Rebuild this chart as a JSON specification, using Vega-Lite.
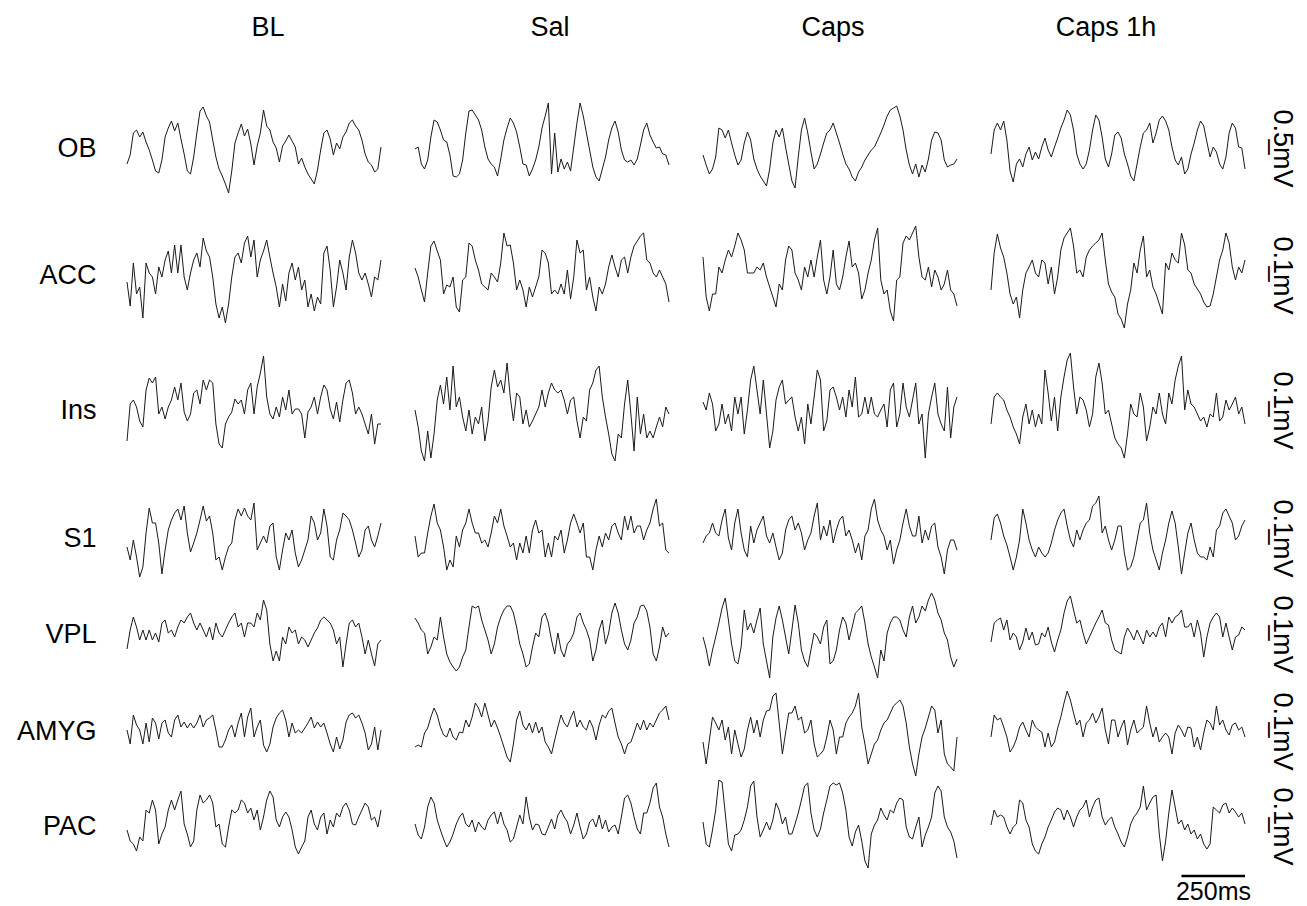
{
"$schema":"https://vega.github.io/schema/vega-lite/v6.json",
"background":"white",
"padding":{"top":14,"left":0,"right":0,"bottom":0},
"config":{"view":{"stroke":null},"font":"Liberation Sans","title":{"font":"Liberation Sans","fontSize":27,"fontWeight":"normal","color":"black","offset":43,"anchor":"middle","frame":"group"},"axis":{"labelFont":"Liberation Sans"}},
"datasets":{
"OB":[
{"t":0,"BL":-16,"Sal":-1,"Caps":-7,"C1h":-6},{"t":12.5,"BL":-7,"Sal":1,"Caps":-17,"C1h":18},{"t":25,"BL":15,"Sal":-16,"Caps":-26,"C1h":25},{"t":37.5,"BL":18,"Sal":-21,"Caps":-21,"C1h":18},{"t":50,"BL":11,"Sal":-12,"Caps":-9,"C1h":27},{"t":62.5,"BL":16,"Sal":11,"Caps":20,"C1h":8},{"t":75,"BL":6,"Sal":28,"Caps":18,"C1h":-23},{"t":87.5,"BL":-2,"Sal":26,"Caps":10,"C1h":-34},{"t":100,"BL":-12,"Sal":18,"Caps":18,"C1h":-16},{"t":112.5,"BL":-23,"Sal":8,"Caps":5,"C1h":-11},
{"t":125,"BL":-25,"Sal":6,"Caps":-7,"C1h":-19},{"t":137.5,"BL":-12,"Sal":-7,"Caps":-17,"C1h":-6},{"t":150,"BL":11,"Sal":-28,"Caps":-12,"C1h":1},{"t":162.5,"BL":20,"Sal":-29,"Caps":5,"C1h":-12},{"t":175,"BL":27,"Sal":-26,"Caps":16,"C1h":-4},{"t":187.5,"BL":17,"Sal":-12,"Caps":8,"C1h":-11},{"t":200,"BL":25,"Sal":15,"Caps":-11,"C1h":1},{"t":212.5,"BL":9,"Sal":37,"Caps":-21,"C1h":10},{"t":225,"BL":-6,"Sal":38,"Caps":-28,"C1h":-2},{"t":237.5,"BL":-23,"Sal":33,"Caps":-33,"C1h":-9},
{"t":250,"BL":-26,"Sal":28,"Caps":-38,"C1h":1},{"t":262.5,"BL":-9,"Sal":18,"Caps":-21,"C1h":10},{"t":275,"BL":15,"Sal":1,"Caps":5,"C1h":20},{"t":287.5,"BL":37,"Sal":-11,"Caps":18,"C1h":28},{"t":300,"BL":41,"Sal":-16,"Caps":11,"C1h":38},{"t":312.5,"BL":32,"Sal":-19,"Caps":20,"C1h":33},{"t":325,"BL":26,"Sal":-28,"Caps":1,"C1h":18},{"t":337.5,"BL":8,"Sal":-11,"Caps":-16,"C1h":-6},{"t":350,"BL":-9,"Sal":8,"Caps":-33,"C1h":-16},{"t":362.5,"BL":-21,"Sal":20,"Caps":-40,"C1h":-21},
{"t":375,"BL":-28,"Sal":30,"Caps":-9,"C1h":-16},{"t":387.5,"BL":-36,"Sal":25,"Caps":18,"C1h":-2},{"t":400,"BL":-45,"Sal":16,"Caps":30,"C1h":18},{"t":412.5,"BL":-23,"Sal":1,"Caps":15,"C1h":33},{"t":425,"BL":5,"Sal":-16,"Caps":-4,"C1h":28},{"t":437.5,"BL":15,"Sal":-17,"Caps":-21,"C1h":11},{"t":450,"BL":24,"Sal":-28,"Caps":-16,"C1h":-11},{"t":462.5,"BL":12,"Sal":-21,"Caps":-6,"C1h":-19},{"t":475,"BL":19,"Sal":-12,"Caps":5,"C1h":-6},{"t":487.5,"BL":4,"Sal":1,"Caps":15,"C1h":13},
{"t":500,"BL":-17,"Sal":20,"Caps":18,"C1h":16},{"t":512.5,"BL":2,"Sal":32,"Caps":25,"C1h":10},{"t":525,"BL":15,"Sal":45,"Caps":15,"C1h":-6},{"t":537.5,"BL":38,"Sal":-26,"Caps":5,"C1h":-16},{"t":550,"BL":22,"Sal":15,"Caps":-6,"C1h":-28},{"t":562.5,"BL":18,"Sal":-24,"Caps":-16,"C1h":-33},{"t":575,"BL":6,"Sal":-11,"Caps":-21,"C1h":-16},{"t":587.5,"BL":0,"Sal":-21,"Caps":-29,"C1h":1},{"t":600,"BL":-14,"Sal":-14,"Caps":-33,"C1h":15},{"t":612.5,"BL":2,"Sal":-23,"Caps":-24,"C1h":18},
{"t":625,"BL":7,"Sal":1,"Caps":-19,"C1h":25},{"t":637.5,"BL":13,"Sal":25,"Caps":-12,"C1h":5},{"t":650,"BL":7,"Sal":45,"Caps":-7,"C1h":15},{"t":662.5,"BL":1,"Sal":32,"Caps":-2,"C1h":28},{"t":675,"BL":-16,"Sal":15,"Caps":1,"C1h":32},{"t":687.5,"BL":-10,"Sal":-2,"Caps":8,"C1h":27},{"t":700,"BL":-19,"Sal":-19,"Caps":15,"C1h":18},{"t":712.5,"BL":-26,"Sal":-29,"Caps":23,"C1h":1},{"t":725,"BL":-31,"Sal":-33,"Caps":32,"C1h":-12},{"t":737.5,"BL":-36,"Sal":-21,"Caps":38,"C1h":-17},
{"t":750,"BL":-22,"Sal":-9,"Caps":40,"C1h":-9},{"t":762.5,"BL":-2,"Sal":8,"Caps":42,"C1h":-26},{"t":775,"BL":15,"Sal":20,"Caps":32,"C1h":-21},{"t":787.5,"BL":18,"Sal":27,"Caps":18,"C1h":-6},{"t":800,"BL":9,"Sal":16,"Caps":-2,"C1h":5},{"t":812.5,"BL":-7,"Sal":-2,"Caps":-17,"C1h":18},{"t":825,"BL":5,"Sal":-12,"Caps":-26,"C1h":27},{"t":837.5,"BL":-1,"Sal":-14,"Caps":-16,"C1h":22},{"t":850,"BL":11,"Sal":-12,"Caps":-29,"C1h":6},{"t":862.5,"BL":16,"Sal":-17,"Caps":-17,"C1h":-9},
{"t":875,"BL":25,"Sal":-11,"Caps":-24,"C1h":1},{"t":887.5,"BL":28,"Sal":3,"Caps":-11,"C1h":-4},{"t":900,"BL":22,"Sal":18,"Caps":8,"C1h":-16},{"t":912.5,"BL":18,"Sal":25,"Caps":16,"C1h":-21},{"t":925,"BL":8,"Sal":13,"Caps":15,"C1h":-9},{"t":937.5,"BL":-6,"Sal":6,"Caps":8,"C1h":15},{"t":950,"BL":-14,"Sal":0,"Caps":-12,"C1h":25},{"t":962.5,"BL":-17,"Sal":1,"Caps":-19,"C1h":20},{"t":975,"BL":-24,"Sal":-6,"Caps":-17,"C1h":1},{"t":987.5,"BL":-21,"Sal":-7,"Caps":-16,"C1h":0},
{"t":1000,"BL":1,"Sal":-17,"Caps":-11,"C1h":-21}],
"ACC":[
{"t":0,"BL":-7,"Sal":7,"Caps":18,"C1h":-15},{"t":12.5,"BL":-31,"Sal":-2,"Caps":-22,"C1h":22},{"t":25,"BL":12,"Sal":-15,"Caps":-36,"C1h":41},{"t":37.5,"BL":-19,"Sal":-27,"Caps":-19,"C1h":27},{"t":50,"BL":-12,"Sal":2,"Caps":-19,"C1h":18},{"t":62.5,"BL":-43,"Sal":29,"Caps":8,"C1h":2},{"t":75,"BL":12,"Sal":34,"Caps":2,"C1h":-19},{"t":87.5,"BL":2,"Sal":24,"Caps":15,"C1h":-29},{"t":100,"BL":-2,"Sal":15,"Caps":25,"C1h":-22},{"t":112.5,"BL":-19,"Sal":-19,"Caps":18,"C1h":-43},
{"t":125,"BL":8,"Sal":-10,"Caps":29,"C1h":-15},{"t":137.5,"BL":-2,"Sal":-12,"Caps":42,"C1h":2},{"t":150,"BL":15,"Sal":-2,"Caps":35,"C1h":8},{"t":162.5,"BL":24,"Sal":-32,"Caps":25,"C1h":15},{"t":175,"BL":2,"Sal":-37,"Caps":2,"C1h":2},{"t":187.5,"BL":30,"Sal":-5,"Caps":2,"C1h":-2},{"t":200,"BL":2,"Sal":-2,"Caps":2,"C1h":15},{"t":212.5,"BL":30,"Sal":32,"Caps":8,"C1h":12},{"t":225,"BL":-2,"Sal":29,"Caps":5,"C1h":-9},{"t":237.5,"BL":-15,"Sal":15,"Caps":12,"C1h":8},
{"t":250,"BL":2,"Sal":5,"Caps":-2,"C1h":-19},{"t":262.5,"BL":15,"Sal":-9,"Caps":-12,"C1h":-2},{"t":275,"BL":22,"Sal":-12,"Caps":-22,"C1h":25},{"t":287.5,"BL":8,"Sal":-15,"Caps":-32,"C1h":37},{"t":300,"BL":37,"Sal":2,"Caps":-9,"C1h":42},{"t":312.5,"BL":24,"Sal":-2,"Caps":-15,"C1h":47},{"t":325,"BL":18,"Sal":-7,"Caps":15,"C1h":29},{"t":337.5,"BL":-2,"Sal":12,"Caps":29,"C1h":2},{"t":350,"BL":-29,"Sal":42,"Caps":25,"C1h":5},{"t":362.5,"BL":-43,"Sal":29,"Caps":2,"C1h":-2},
{"t":375,"BL":-32,"Sal":30,"Caps":-5,"C1h":18},{"t":387.5,"BL":-48,"Sal":12,"Caps":-15,"C1h":25},{"t":400,"BL":-29,"Sal":-15,"Caps":8,"C1h":29},{"t":412.5,"BL":-2,"Sal":-5,"Caps":-2,"C1h":32},{"t":425,"BL":18,"Sal":-15,"Caps":15,"C1h":35},{"t":437.5,"BL":22,"Sal":-32,"Caps":-2,"C1h":42},{"t":450,"BL":12,"Sal":-12,"Caps":18,"C1h":15},{"t":462.5,"BL":32,"Sal":-22,"Caps":35,"C1h":-9},{"t":475,"BL":39,"Sal":-12,"Caps":-5,"C1h":-17},{"t":487.5,"BL":18,"Sal":-2,"Caps":-19,"C1h":-22},
{"t":500,"BL":35,"Sal":25,"Caps":-2,"C1h":-39},{"t":512.5,"BL":-2,"Sal":22,"Caps":25,"C1h":-44},{"t":525,"BL":15,"Sal":12,"Caps":-9,"C1h":-53},{"t":537.5,"BL":24,"Sal":-19,"Caps":-15,"C1h":-29},{"t":550,"BL":35,"Sal":-15,"Caps":-2,"C1h":-15},{"t":562.5,"BL":18,"Sal":-19,"Caps":18,"C1h":12},{"t":575,"BL":2,"Sal":-9,"Caps":34,"C1h":2},{"t":587.5,"BL":-12,"Sal":-19,"Caps":8,"C1h":25},{"t":600,"BL":-32,"Sal":5,"Caps":12,"C1h":39},{"t":612.5,"BL":-9,"Sal":-24,"Caps":2,"C1h":-2},
{"t":625,"BL":-26,"Sal":-2,"Caps":-24,"C1h":5},{"t":637.5,"BL":2,"Sal":35,"Caps":-15,"C1h":-12},{"t":650,"BL":12,"Sal":22,"Caps":2,"C1h":-19},{"t":662.5,"BL":-5,"Sal":25,"Caps":15,"C1h":-29},{"t":675,"BL":8,"Sal":-15,"Caps":35,"C1h":-39},{"t":687.5,"BL":-15,"Sal":-2,"Caps":47,"C1h":12},{"t":700,"BL":-5,"Sal":-22,"Caps":-5,"C1h":5},{"t":712.5,"BL":-32,"Sal":-36,"Caps":-19,"C1h":22},{"t":725,"BL":-19,"Sal":-12,"Caps":-15,"C1h":15},{"t":737.5,"BL":-36,"Sal":-19,"Caps":-36,"C1h":12},
{"t":750,"BL":-22,"Sal":-9,"Caps":-46,"C1h":42},{"t":762.5,"BL":-29,"Sal":8,"Caps":-5,"C1h":30},{"t":775,"BL":22,"Sal":20,"Caps":-2,"C1h":5},{"t":787.5,"BL":29,"Sal":8,"Caps":32,"C1h":2},{"t":800,"BL":5,"Sal":-2,"Caps":39,"C1h":-9},{"t":812.5,"BL":-32,"Sal":15,"Caps":35,"C1h":-14},{"t":825,"BL":-12,"Sal":18,"Caps":42,"C1h":-19},{"t":837.5,"BL":15,"Sal":2,"Caps":49,"C1h":-27},{"t":850,"BL":2,"Sal":18,"Caps":18,"C1h":-32},{"t":862.5,"BL":-15,"Sal":29,"Caps":-2,"C1h":-31},
{"t":875,"BL":18,"Sal":34,"Caps":-5,"C1h":-19},{"t":887.5,"BL":35,"Sal":39,"Caps":8,"C1h":-2},{"t":900,"BL":22,"Sal":42,"Caps":-12,"C1h":15},{"t":912.5,"BL":2,"Sal":15,"Caps":5,"C1h":25},{"t":925,"BL":-5,"Sal":12,"Caps":-2,"C1h":42},{"t":937.5,"BL":2,"Sal":2,"Caps":-15,"C1h":32},{"t":950,"BL":-9,"Sal":-2,"Caps":-9,"C1h":8},{"t":962.5,"BL":-22,"Sal":5,"Caps":5,"C1h":-5},{"t":975,"BL":-2,"Sal":-2,"Caps":-15,"C1h":8},{"t":987.5,"BL":-5,"Sal":-9,"Caps":-19,"C1h":2},
{"t":1000,"BL":15,"Sal":-27,"Caps":-31,"C1h":15}],
"Ins":[
{"t":0,"BL":-31,"Sal":0,"Caps":8,"C1h":-14},{"t":12.5,"BL":6,"Sal":-17,"Caps":0,"C1h":13},{"t":25,"BL":10,"Sal":-41,"Caps":17,"C1h":17},{"t":37.5,"BL":3,"Sal":-51,"Caps":6,"C1h":13},{"t":50,"BL":-11,"Sal":-21,"Caps":-21,"C1h":10},{"t":62.5,"BL":-17,"Sal":-48,"Caps":-14,"C1h":0},{"t":75,"BL":20,"Sal":-24,"Caps":6,"C1h":-7},{"t":87.5,"BL":32,"Sal":10,"Caps":-14,"C1h":-17},{"t":100,"BL":27,"Sal":25,"Caps":-4,"C1h":-24},{"t":112.5,"BL":33,"Sal":6,"Caps":-21,"C1h":-34},
{"t":125,"BL":-4,"Sal":33,"Caps":13,"C1h":-7},{"t":137.5,"BL":3,"Sal":0,"Caps":-4,"C1h":6},{"t":150,"BL":-9,"Sal":44,"Caps":13,"C1h":-14},{"t":162.5,"BL":3,"Sal":3,"Caps":-24,"C1h":0},{"t":175,"BL":10,"Sal":13,"Caps":0,"C1h":-17},{"t":187.5,"BL":23,"Sal":-7,"Caps":30,"C1h":-4},{"t":200,"BL":10,"Sal":-21,"Caps":44,"C1h":-14},{"t":212.5,"BL":27,"Sal":0,"Caps":20,"C1h":40},{"t":225,"BL":-2,"Sal":-24,"Caps":-4,"C1h":17},{"t":237.5,"BL":-11,"Sal":-7,"Caps":30,"C1h":-11},
{"t":250,"BL":-4,"Sal":-14,"Caps":-4,"C1h":13},{"t":262.5,"BL":17,"Sal":3,"Caps":-38,"C1h":-21},{"t":275,"BL":20,"Sal":-31,"Caps":-21,"C1h":13},{"t":287.5,"BL":6,"Sal":-11,"Caps":10,"C1h":33},{"t":300,"BL":30,"Sal":23,"Caps":23,"C1h":50},{"t":312.5,"BL":20,"Sal":40,"Caps":30,"C1h":57},{"t":325,"BL":30,"Sal":23,"Caps":6,"C1h":23},{"t":337.5,"BL":27,"Sal":30,"Caps":10,"C1h":-4},{"t":350,"BL":-14,"Sal":17,"Caps":13,"C1h":13},{"t":362.5,"BL":-34,"Sal":47,"Caps":-7,"C1h":10},
{"t":375,"BL":-38,"Sal":13,"Caps":-21,"C1h":0},{"t":387.5,"BL":-14,"Sal":-11,"Caps":-7,"C1h":-17},{"t":400,"BL":-7,"Sal":17,"Caps":-34,"C1h":-4},{"t":412.5,"BL":-2,"Sal":13,"Caps":6,"C1h":33},{"t":425,"BL":11,"Sal":-14,"Caps":-14,"C1h":47},{"t":437.5,"BL":6,"Sal":0,"Caps":13,"C1h":27},{"t":450,"BL":10,"Sal":-17,"Caps":40,"C1h":-4},{"t":462.5,"BL":-4,"Sal":-11,"Caps":30,"C1h":0},{"t":475,"BL":20,"Sal":-4,"Caps":-21,"C1h":-14},{"t":487.5,"BL":27,"Sal":3,"Caps":-11,"C1h":-28},
{"t":500,"BL":-4,"Sal":20,"Caps":20,"C1h":-34},{"t":512.5,"BL":23,"Sal":3,"Caps":23,"C1h":-38},{"t":525,"BL":37,"Sal":17,"Caps":13,"C1h":-48},{"t":537.5,"BL":54,"Sal":27,"Caps":0,"C1h":-24},{"t":550,"BL":13,"Sal":20,"Caps":13,"C1h":6},{"t":562.5,"BL":-4,"Sal":17,"Caps":-7,"C1h":-4},{"t":575,"BL":-9,"Sal":20,"Caps":20,"C1h":-7},{"t":587.5,"BL":3,"Sal":10,"Caps":3,"C1h":17},{"t":600,"BL":-7,"Sal":-4,"Caps":33,"C1h":3},{"t":612.5,"BL":13,"Sal":10,"Caps":-7,"C1h":-31},
{"t":625,"BL":0,"Sal":13,"Caps":-4,"C1h":-17},{"t":637.5,"BL":20,"Sal":-11,"Caps":13,"C1h":3},{"t":650,"BL":-4,"Sal":-28,"Caps":-4,"C1h":-4},{"t":662.5,"BL":1,"Sal":-7,"Caps":13,"C1h":17},{"t":675,"BL":1,"Sal":-11,"Caps":-4,"C1h":-4},{"t":687.5,"BL":-4,"Sal":20,"Caps":-7,"C1h":-14},{"t":700,"BL":-28,"Sal":27,"Caps":0,"C1h":17},{"t":712.5,"BL":-2,"Sal":40,"Caps":6,"C1h":6},{"t":725,"BL":3,"Sal":44,"Caps":-17,"C1h":30},{"t":737.5,"BL":13,"Sal":13,"Caps":20,"C1h":44},
{"t":750,"BL":-4,"Sal":-7,"Caps":27,"C1h":54},{"t":762.5,"BL":13,"Sal":-24,"Caps":-17,"C1h":0},{"t":775,"BL":25,"Sal":-44,"Caps":-4,"C1h":20},{"t":787.5,"BL":20,"Sal":-51,"Caps":27,"C1h":6},{"t":800,"BL":1,"Sal":-24,"Caps":3,"C1h":3},{"t":812.5,"BL":-9,"Sal":-28,"Caps":-7,"C1h":-4},{"t":825,"BL":8,"Sal":6,"Caps":10,"C1h":-11},{"t":837.5,"BL":-12,"Sal":30,"Caps":27,"C1h":-7},{"t":850,"BL":10,"Sal":-4,"Caps":-14,"C1h":-17},{"t":862.5,"BL":27,"Sal":-41,"Caps":-4,"C1h":-4},
{"t":875,"BL":30,"Sal":13,"Caps":-48,"C1h":-7},{"t":887.5,"BL":17,"Sal":-24,"Caps":-4,"C1h":17},{"t":900,"BL":-4,"Sal":-4,"Caps":13,"C1h":-11},{"t":912.5,"BL":3,"Sal":-28,"Caps":27,"C1h":-7},{"t":925,"BL":-4,"Sal":-21,"Caps":-4,"C1h":10},{"t":937.5,"BL":-14,"Sal":-28,"Caps":-14,"C1h":0},{"t":950,"BL":-24,"Sal":-17,"Caps":-21,"C1h":6},{"t":962.5,"BL":-4,"Sal":-7,"Caps":23,"C1h":13},{"t":975,"BL":-34,"Sal":-17,"Caps":-28,"C1h":-4},{"t":987.5,"BL":-14,"Sal":3,"Caps":3,"C1h":3},
{"t":1000,"BL":-14,"Sal":-4,"Caps":13,"C1h":-14}],
"S1":[
{"t":0,"BL":-9,"Sal":2,"Caps":-5,"C1h":-2},{"t":12.5,"BL":-22,"Sal":-19,"Caps":2,"C1h":20},{"t":25,"BL":-2,"Sal":-15,"Caps":5,"C1h":24},{"t":37.5,"BL":-19,"Sal":-15,"Caps":15,"C1h":15},{"t":50,"BL":-39,"Sal":5,"Caps":5,"C1h":2},{"t":62.5,"BL":-29,"Sal":22,"Caps":2,"C1h":-7},{"t":75,"BL":5,"Sal":34,"Caps":18,"C1h":-19},{"t":87.5,"BL":30,"Sal":15,"Caps":29,"C1h":-32},{"t":100,"BL":15,"Sal":8,"Caps":0,"C1h":-19},{"t":112.5,"BL":15,"Sal":-9,"Caps":-12,"C1h":-2},
{"t":125,"BL":-5,"Sal":-32,"Caps":15,"C1h":29},{"t":137.5,"BL":-36,"Sal":-22,"Caps":29,"C1h":15},{"t":150,"BL":-12,"Sal":-29,"Caps":5,"C1h":-2},{"t":162.5,"BL":8,"Sal":2,"Caps":-12,"C1h":-12},{"t":175,"BL":18,"Sal":-9,"Caps":-19,"C1h":-19},{"t":187.5,"BL":25,"Sal":8,"Caps":12,"C1h":-9},{"t":200,"BL":29,"Sal":15,"Caps":-5,"C1h":-15},{"t":212.5,"BL":18,"Sal":29,"Caps":8,"C1h":-19},{"t":225,"BL":32,"Sal":15,"Caps":15,"C1h":-15},{"t":237.5,"BL":5,"Sal":5,"Caps":22,"C1h":-5},
{"t":250,"BL":-14,"Sal":5,"Caps":2,"C1h":8},{"t":262.5,"BL":-5,"Sal":-5,"Caps":-5,"C1h":18},{"t":275,"BL":5,"Sal":-2,"Caps":5,"C1h":25},{"t":287.5,"BL":18,"Sal":-9,"Caps":-9,"C1h":29},{"t":300,"BL":32,"Sal":5,"Caps":-22,"C1h":12},{"t":312.5,"BL":17,"Sal":22,"Caps":-15,"C1h":-2},{"t":325,"BL":22,"Sal":15,"Caps":8,"C1h":-9},{"t":337.5,"BL":5,"Sal":29,"Caps":18,"C1h":8},{"t":350,"BL":-22,"Sal":12,"Caps":22,"C1h":-2},{"t":362.5,"BL":-19,"Sal":2,"Caps":8,"C1h":8},
{"t":375,"BL":-32,"Sal":-9,"Caps":15,"C1h":15},{"t":387.5,"BL":-19,"Sal":-5,"Caps":5,"C1h":18},{"t":400,"BL":-9,"Sal":-22,"Caps":-12,"C1h":32},{"t":412.5,"BL":-5,"Sal":-5,"Caps":-2,"C1h":35},{"t":425,"BL":18,"Sal":-15,"Caps":5,"C1h":42},{"t":437.5,"BL":29,"Sal":2,"Caps":22,"C1h":5},{"t":450,"BL":22,"Sal":-15,"Caps":35,"C1h":12},{"t":462.5,"BL":30,"Sal":8,"Caps":-2,"C1h":-2},{"t":475,"BL":22,"Sal":18,"Caps":12,"C1h":-12},{"t":487.5,"BL":18,"Sal":5,"Caps":2,"C1h":-2},
{"t":500,"BL":35,"Sal":8,"Caps":18,"C1h":12},{"t":512.5,"BL":-12,"Sal":-19,"Caps":-5,"C1h":12},{"t":525,"BL":-5,"Sal":-5,"Caps":8,"C1h":-15},{"t":537.5,"BL":2,"Sal":-19,"Caps":18,"C1h":-32},{"t":550,"BL":-5,"Sal":2,"Caps":22,"C1h":-29},{"t":562.5,"BL":12,"Sal":-2,"Caps":2,"C1h":-19},{"t":575,"BL":15,"Sal":8,"Caps":8,"C1h":-2},{"t":587.5,"BL":-19,"Sal":-15,"Caps":-2,"C1h":15},{"t":600,"BL":-32,"Sal":-2,"Caps":-15,"C1h":18},{"t":612.5,"BL":-12,"Sal":15,"Caps":-5,"C1h":35},
{"t":625,"BL":5,"Sal":24,"Caps":-22,"C1h":5},{"t":637.5,"BL":-2,"Sal":15,"Caps":2,"C1h":-12},{"t":650,"BL":8,"Sal":5,"Caps":8,"C1h":-22},{"t":662.5,"BL":-15,"Sal":15,"Caps":29,"C1h":-32},{"t":675,"BL":-29,"Sal":-19,"Caps":39,"C1h":-15},{"t":687.5,"BL":-22,"Sal":-19,"Caps":18,"C1h":-2},{"t":700,"BL":-12,"Sal":-32,"Caps":8,"C1h":15},{"t":712.5,"BL":-2,"Sal":-12,"Caps":2,"C1h":27},{"t":725,"BL":22,"Sal":2,"Caps":-12,"C1h":15},{"t":737.5,"BL":15,"Sal":-9,"Caps":-2,"C1h":-9},
{"t":750,"BL":-2,"Sal":5,"Caps":-26,"C1h":-36},{"t":762.5,"BL":5,"Sal":-2,"Caps":-12,"C1h":-15},{"t":775,"BL":29,"Sal":12,"Caps":-2,"C1h":5},{"t":787.5,"BL":12,"Sal":15,"Caps":15,"C1h":15},{"t":800,"BL":-19,"Sal":5,"Caps":29,"C1h":-2},{"t":812.5,"BL":-22,"Sal":-2,"Caps":12,"C1h":-15},{"t":825,"BL":-2,"Sal":22,"Caps":2,"C1h":-19},{"t":837.5,"BL":8,"Sal":8,"Caps":2,"C1h":-19},{"t":850,"BL":25,"Sal":22,"Caps":22,"C1h":-22},{"t":862.5,"BL":22,"Sal":5,"Caps":-5,"C1h":-9},
{"t":875,"BL":18,"Sal":12,"Caps":8,"C1h":-19},{"t":887.5,"BL":8,"Sal":12,"Caps":-2,"C1h":8},{"t":900,"BL":-5,"Sal":-2,"Caps":12,"C1h":12},{"t":912.5,"BL":-19,"Sal":8,"Caps":15,"C1h":25},{"t":925,"BL":-12,"Sal":15,"Caps":-9,"C1h":29},{"t":937.5,"BL":8,"Sal":29,"Caps":-19,"C1h":22},{"t":950,"BL":12,"Sal":39,"Caps":-36,"C1h":15},{"t":962.5,"BL":-2,"Sal":12,"Caps":-12,"C1h":-2},{"t":975,"BL":-9,"Sal":15,"Caps":-2,"C1h":2},{"t":987.5,"BL":2,"Sal":-12,"Caps":-2,"C1h":12},
{"t":1000,"BL":15,"Sal":-15,"Caps":-12,"C1h":18}],
"VPL":[
{"t":0,"BL":-15,"Sal":16,"Caps":-3,"C1h":-8},{"t":12.5,"BL":4,"Sal":11,"Caps":-15,"C1h":11},{"t":25,"BL":17,"Sal":4,"Caps":-32,"C1h":14},{"t":37.5,"BL":7,"Sal":1,"Caps":-16,"C1h":16},{"t":50,"BL":-6,"Sal":-20,"Caps":-3,"C1h":4},{"t":62.5,"BL":4,"Sal":-13,"Caps":11,"C1h":14},{"t":75,"BL":-6,"Sal":-3,"Caps":26,"C1h":-6},{"t":87.5,"BL":4,"Sal":-6,"Caps":36,"C1h":1},{"t":100,"BL":-6,"Sal":17,"Caps":14,"C1h":-3},{"t":112.5,"BL":1,"Sal":-3,"Caps":-10,"C1h":-16},
{"t":125,"BL":-8,"Sal":-20,"Caps":-27,"C1h":-8},{"t":137.5,"BL":11,"Sal":-28,"Caps":-30,"C1h":6},{"t":150,"BL":14,"Sal":-33,"Caps":-13,"C1h":-6},{"t":162.5,"BL":1,"Sal":-37,"Caps":24,"C1h":2},{"t":175,"BL":4,"Sal":-33,"Caps":4,"C1h":-11},{"t":187.5,"BL":-3,"Sal":-23,"Caps":11,"C1h":-10},{"t":200,"BL":7,"Sal":-16,"Caps":1,"C1h":1},{"t":212.5,"BL":14,"Sal":7,"Caps":14,"C1h":-3},{"t":225,"BL":11,"Sal":28,"Caps":26,"C1h":7},{"t":237.5,"BL":17,"Sal":26,"Caps":-10,"C1h":-8},
{"t":250,"BL":21,"Sal":28,"Caps":-27,"C1h":-18},{"t":262.5,"BL":11,"Sal":14,"Caps":-44,"C1h":-6},{"t":275,"BL":4,"Sal":4,"Caps":-3,"C1h":4},{"t":287.5,"BL":11,"Sal":-6,"Caps":16,"C1h":21},{"t":300,"BL":4,"Sal":-20,"Caps":28,"C1h":33},{"t":312.5,"BL":-3,"Sal":-10,"Caps":14,"C1h":38},{"t":325,"BL":7,"Sal":7,"Caps":-3,"C1h":24},{"t":337.5,"BL":-6,"Sal":17,"Caps":-20,"C1h":11},{"t":350,"BL":11,"Sal":24,"Caps":4,"C1h":14},{"t":362.5,"BL":1,"Sal":28,"Caps":29,"C1h":1},
{"t":375,"BL":-3,"Sal":28,"Caps":11,"C1h":-10},{"t":387.5,"BL":4,"Sal":21,"Caps":-16,"C1h":-3},{"t":400,"BL":11,"Sal":7,"Caps":-27,"C1h":4},{"t":412.5,"BL":17,"Sal":-10,"Caps":-33,"C1h":11},{"t":425,"BL":21,"Sal":-20,"Caps":-16,"C1h":17},{"t":437.5,"BL":7,"Sal":-33,"Caps":1,"C1h":24},{"t":450,"BL":11,"Sal":-30,"Caps":-3,"C1h":11},{"t":462.5,"BL":-3,"Sal":-13,"Caps":-10,"C1h":9},{"t":475,"BL":11,"Sal":1,"Caps":7,"C1h":-6},{"t":487.5,"BL":11,"Sal":-3,"Caps":14,"C1h":-16},
{"t":500,"BL":7,"Sal":17,"Caps":-30,"C1h":-18},{"t":512.5,"BL":21,"Sal":21,"Caps":-27,"C1h":-20},{"t":525,"BL":14,"Sal":11,"Caps":-16,"C1h":-3},{"t":537.5,"BL":34,"Sal":-6,"Caps":4,"C1h":6},{"t":550,"BL":24,"Sal":-20,"Caps":17,"C1h":1},{"t":562.5,"BL":-10,"Sal":1,"Caps":11,"C1h":-6},{"t":575,"BL":-27,"Sal":-16,"Caps":-6,"C1h":4},{"t":587.5,"BL":-17,"Sal":-23,"Caps":7,"C1h":-3},{"t":600,"BL":-27,"Sal":-10,"Caps":21,"C1h":-10},{"t":612.5,"BL":-3,"Sal":-6,"Caps":24,"C1h":4},
{"t":625,"BL":-10,"Sal":1,"Caps":28,"C1h":-3},{"t":637.5,"BL":7,"Sal":17,"Caps":11,"C1h":2},{"t":650,"BL":1,"Sal":21,"Caps":-10,"C1h":-3},{"t":662.5,"BL":4,"Sal":11,"Caps":-23,"C1h":7},{"t":675,"BL":-10,"Sal":4,"Caps":-33,"C1h":11},{"t":687.5,"BL":-3,"Sal":-6,"Caps":-44,"C1h":-3},{"t":700,"BL":-6,"Sal":-27,"Caps":-16,"C1h":17},{"t":712.5,"BL":-13,"Sal":-16,"Caps":-27,"C1h":11},{"t":725,"BL":-6,"Sal":4,"Caps":1,"C1h":17},{"t":737.5,"BL":1,"Sal":14,"Caps":11,"C1h":19},
{"t":750,"BL":6,"Sal":-10,"Caps":17,"C1h":24},{"t":762.5,"BL":14,"Sal":1,"Caps":17,"C1h":7},{"t":775,"BL":17,"Sal":21,"Caps":14,"C1h":7},{"t":787.5,"BL":14,"Sal":31,"Caps":4,"C1h":11},{"t":800,"BL":11,"Sal":21,"Caps":-3,"C1h":-3},{"t":812.5,"BL":4,"Sal":4,"Caps":17,"C1h":14},{"t":825,"BL":-10,"Sal":-10,"Caps":28,"C1h":1},{"t":837.5,"BL":-3,"Sal":-16,"Caps":11,"C1h":-23},{"t":850,"BL":-33,"Sal":-6,"Caps":17,"C1h":-3},{"t":862.5,"BL":-10,"Sal":11,"Caps":28,"C1h":11},
{"t":875,"BL":11,"Sal":17,"Caps":23,"C1h":17},{"t":887.5,"BL":14,"Sal":28,"Caps":34,"C1h":21},{"t":900,"BL":7,"Sal":29,"Caps":41,"C1h":17},{"t":912.5,"BL":11,"Sal":23,"Caps":34,"C1h":-3},{"t":925,"BL":-3,"Sal":7,"Caps":21,"C1h":11},{"t":937.5,"BL":-20,"Sal":-20,"Caps":14,"C1h":-3},{"t":950,"BL":-6,"Sal":-27,"Caps":1,"C1h":-16},{"t":962.5,"BL":-20,"Sal":-13,"Caps":-6,"C1h":-3},{"t":975,"BL":-32,"Sal":7,"Caps":-23,"C1h":-1},{"t":987.5,"BL":-10,"Sal":-3,"Caps":-33,"C1h":7},
{"t":1000,"BL":-6,"Sal":1,"Caps":-25,"C1h":4}],
"AMYG":[
{"t":0,"BL":1,"Sal":-16,"Caps":-11,"C1h":-6},{"t":12.5,"BL":-13,"Sal":-14,"Caps":-33,"C1h":16},{"t":25,"BL":16,"Sal":-16,"Caps":-9,"C1h":11},{"t":37.5,"BL":6,"Sal":-2,"Caps":14,"C1h":13},{"t":50,"BL":1,"Sal":3,"Caps":8,"C1h":4},{"t":62.5,"BL":-13,"Sal":14,"Caps":1,"C1h":-6},{"t":75,"BL":8,"Sal":23,"Caps":11,"C1h":-21},{"t":87.5,"BL":-11,"Sal":16,"Caps":-9,"C1h":-16},{"t":100,"BL":13,"Sal":4,"Caps":4,"C1h":-8},{"t":112.5,"BL":8,"Sal":-4,"Caps":-23,"C1h":4},
{"t":125,"BL":-8,"Sal":-6,"Caps":1,"C1h":9},{"t":137.5,"BL":8,"Sal":3,"Caps":-13,"C1h":1},{"t":150,"BL":11,"Sal":-6,"Caps":-26,"C1h":-6},{"t":162.5,"BL":-2,"Sal":-9,"Caps":-18,"C1h":11},{"t":175,"BL":-6,"Sal":-1,"Caps":1,"C1h":4},{"t":187.5,"BL":11,"Sal":-2,"Caps":14,"C1h":1},{"t":200,"BL":16,"Sal":11,"Caps":-2,"C1h":-1},{"t":212.5,"BL":4,"Sal":4,"Caps":11,"C1h":-16},{"t":225,"BL":9,"Sal":14,"Caps":-6,"C1h":-2},{"t":237.5,"BL":3,"Sal":28,"Caps":11,"C1h":-16},
{"t":250,"BL":8,"Sal":23,"Caps":20,"C1h":-11},{"t":262.5,"BL":3,"Sal":14,"Caps":21,"C1h":3},{"t":275,"BL":8,"Sal":28,"Caps":35,"C1h":14},{"t":287.5,"BL":16,"Sal":16,"Caps":38,"C1h":28},{"t":300,"BL":4,"Sal":4,"Caps":8,"C1h":40},{"t":312.5,"BL":11,"Sal":11,"Caps":-23,"C1h":31},{"t":325,"BL":13,"Sal":3,"Caps":-2,"C1h":18},{"t":337.5,"BL":16,"Sal":-6,"Caps":18,"C1h":6},{"t":350,"BL":1,"Sal":-16,"Caps":18,"C1h":11},{"t":362.5,"BL":-16,"Sal":-26,"Caps":25,"C1h":-6},
{"t":375,"BL":-16,"Sal":-31,"Caps":11,"C1h":8},{"t":387.5,"BL":-9,"Sal":-13,"Caps":14,"C1h":11},{"t":400,"BL":1,"Sal":11,"Caps":-2,"C1h":18},{"t":412.5,"BL":6,"Sal":20,"Caps":1,"C1h":8},{"t":425,"BL":-6,"Sal":6,"Caps":11,"C1h":14},{"t":437.5,"BL":8,"Sal":1,"Caps":-13,"C1h":23},{"t":450,"BL":18,"Sal":8,"Caps":-26,"C1h":1},{"t":462.5,"BL":-6,"Sal":-2,"Caps":-23,"C1h":-13},{"t":475,"BL":14,"Sal":9,"Caps":-19,"C1h":11},{"t":487.5,"BL":23,"Sal":-2,"Caps":-6,"C1h":11},
{"t":500,"BL":-6,"Sal":4,"Caps":11,"C1h":-6},{"t":512.5,"BL":4,"Sal":-11,"Caps":1,"C1h":4},{"t":525,"BL":11,"Sal":-16,"Caps":-23,"C1h":11},{"t":537.5,"BL":-14,"Sal":-23,"Caps":-6,"C1h":-14},{"t":550,"BL":-21,"Sal":-9,"Caps":-6,"C1h":1},{"t":562.5,"BL":-13,"Sal":4,"Caps":8,"C1h":11},{"t":575,"BL":4,"Sal":16,"Caps":14,"C1h":-2},{"t":587.5,"BL":13,"Sal":8,"Caps":18,"C1h":1},{"t":600,"BL":18,"Sal":4,"Caps":25,"C1h":4},{"t":612.5,"BL":21,"Sal":13,"Caps":38,"C1h":25},
{"t":625,"BL":11,"Sal":20,"Caps":4,"C1h":8},{"t":637.5,"BL":-6,"Sal":4,"Caps":-13,"C1h":-6},{"t":650,"BL":8,"Sal":11,"Caps":-33,"C1h":4},{"t":662.5,"BL":-2,"Sal":4,"Caps":-23,"C1h":-11},{"t":675,"BL":1,"Sal":1,"Caps":-13,"C1h":-6},{"t":687.5,"BL":-2,"Sal":11,"Caps":-9,"C1h":-2},{"t":700,"BL":3,"Sal":4,"Caps":1,"C1h":-6},{"t":712.5,"BL":8,"Sal":-9,"Caps":8,"C1h":-23},{"t":725,"BL":14,"Sal":6,"Caps":11,"C1h":-2},{"t":737.5,"BL":3,"Sal":16,"Caps":18,"C1h":6},
{"t":750,"BL":9,"Sal":13,"Caps":25,"C1h":1},{"t":762.5,"BL":4,"Sal":20,"Caps":28,"C1h":-6},{"t":775,"BL":8,"Sal":23,"Caps":31,"C1h":4},{"t":787.5,"BL":-2,"Sal":8,"Caps":25,"C1h":3},{"t":800,"BL":-13,"Sal":-6,"Caps":8,"C1h":-16},{"t":812.5,"BL":-21,"Sal":-13,"Caps":-16,"C1h":-6},{"t":825,"BL":-6,"Sal":-23,"Caps":-33,"C1h":-19},{"t":837.5,"BL":-18,"Sal":-13,"Caps":-45,"C1h":-2},{"t":850,"BL":-9,"Sal":-11,"Caps":-23,"C1h":11},{"t":862.5,"BL":9,"Sal":-2,"Caps":-6,"C1h":8},
{"t":875,"BL":16,"Sal":8,"Caps":3,"C1h":1},{"t":887.5,"BL":18,"Sal":1,"Caps":14,"C1h":25},{"t":900,"BL":13,"Sal":11,"Caps":25,"C1h":6},{"t":912.5,"BL":16,"Sal":1,"Caps":21,"C1h":11},{"t":925,"BL":8,"Sal":8,"Caps":-2,"C1h":1},{"t":937.5,"BL":-2,"Sal":4,"Caps":11,"C1h":-4},{"t":950,"BL":-19,"Sal":11,"Caps":-23,"C1h":6},{"t":962.5,"BL":-13,"Sal":18,"Caps":-33,"C1h":8},{"t":975,"BL":4,"Sal":21,"Caps":-36,"C1h":1},{"t":987.5,"BL":-19,"Sal":25,"Caps":-40,"C1h":4},
{"t":1000,"BL":1,"Sal":11,"Caps":-6,"C1h":-6}],
"PAC":[
{"t":0,"BL":-4,"Sal":2,"Caps":4,"C1h":1},{"t":12.5,"BL":-15,"Sal":-9,"Caps":-18,"C1h":16},{"t":25,"BL":-18,"Sal":-13,"Caps":-21,"C1h":9},{"t":37.5,"BL":-25,"Sal":-1,"Caps":-4,"C1h":11},{"t":50,"BL":-11,"Sal":19,"Caps":16,"C1h":9},{"t":62.5,"BL":-15,"Sal":29,"Caps":46,"C1h":-1},{"t":75,"BL":16,"Sal":23,"Caps":44,"C1h":-8},{"t":87.5,"BL":13,"Sal":6,"Caps":13,"C1h":-1},{"t":100,"BL":26,"Sal":-4,"Caps":-18,"C1h":2},{"t":112.5,"BL":16,"Sal":-13,"Caps":-25,"C1h":26},
{"t":125,"BL":-18,"Sal":-21,"Caps":-9,"C1h":23},{"t":137.5,"BL":-8,"Sal":-16,"Caps":-8,"C1h":6},{"t":150,"BL":-1,"Sal":-8,"Caps":-4,"C1h":-1},{"t":162.5,"BL":16,"Sal":2,"Caps":6,"C1h":-18},{"t":175,"BL":26,"Sal":9,"Caps":19,"C1h":-25},{"t":187.5,"BL":16,"Sal":13,"Caps":40,"C1h":-28},{"t":200,"BL":26,"Sal":2,"Caps":45,"C1h":-18},{"t":212.5,"BL":35,"Sal":-1,"Caps":9,"C1h":-11},{"t":225,"BL":2,"Sal":6,"Caps":-11,"C1h":-1},{"t":237.5,"BL":-8,"Sal":-6,"Caps":-4,"C1h":6},
{"t":250,"BL":-21,"Sal":4,"Caps":4,"C1h":14},{"t":262.5,"BL":-15,"Sal":-1,"Caps":-4,"C1h":18},{"t":275,"BL":16,"Sal":-4,"Caps":6,"C1h":16},{"t":287.5,"BL":31,"Sal":6,"Caps":23,"C1h":6},{"t":300,"BL":23,"Sal":11,"Caps":16,"C1h":16},{"t":312.5,"BL":26,"Sal":14,"Caps":2,"C1h":9},{"t":325,"BL":31,"Sal":2,"Caps":9,"C1h":-1},{"t":337.5,"BL":23,"Sal":14,"Caps":-8,"C1h":9},{"t":350,"BL":-1,"Sal":2,"Caps":-8,"C1h":16},{"t":362.5,"BL":2,"Sal":-4,"Caps":2,"C1h":19},
{"t":375,"BL":-18,"Sal":-16,"Caps":13,"C1h":26},{"t":387.5,"BL":-21,"Sal":-13,"Caps":26,"C1h":9},{"t":400,"BL":-1,"Sal":-1,"Caps":40,"C1h":19},{"t":412.5,"BL":16,"Sal":11,"Caps":43,"C1h":26},{"t":425,"BL":13,"Sal":2,"Caps":13,"C1h":28},{"t":437.5,"BL":16,"Sal":29,"Caps":-4,"C1h":9},{"t":450,"BL":26,"Sal":9,"Caps":-11,"C1h":1},{"t":462.5,"BL":23,"Sal":-4,"Caps":-3,"C1h":6},{"t":475,"BL":13,"Sal":2,"Caps":13,"C1h":9},{"t":487.5,"BL":18,"Sal":1,"Caps":26,"C1h":-1},
{"t":500,"BL":6,"Sal":-8,"Caps":40,"C1h":-8},{"t":512.5,"BL":16,"Sal":-9,"Caps":43,"C1h":-16},{"t":525,"BL":-4,"Sal":-1,"Caps":41,"C1h":-21},{"t":537.5,"BL":9,"Sal":7,"Caps":43,"C1h":-11},{"t":550,"BL":26,"Sal":-3,"Caps":33,"C1h":2},{"t":562.5,"BL":35,"Sal":11,"Caps":16,"C1h":9},{"t":575,"BL":29,"Sal":16,"Caps":-11,"C1h":13},{"t":587.5,"BL":6,"Sal":9,"Caps":-20,"C1h":19},{"t":600,"BL":-1,"Sal":4,"Caps":-6,"C1h":40},{"t":612.5,"BL":9,"Sal":-8,"Caps":1,"C1h":16},
{"t":625,"BL":14,"Sal":1,"Caps":-15,"C1h":23},{"t":637.5,"BL":9,"Sal":13,"Caps":-35,"C1h":29},{"t":650,"BL":-4,"Sal":-1,"Caps":-42,"C1h":31},{"t":662.5,"BL":-21,"Sal":-13,"Caps":-8,"C1h":-8},{"t":675,"BL":-28,"Sal":-8,"Caps":1,"C1h":-35},{"t":687.5,"BL":-21,"Sal":4,"Caps":6,"C1h":-15},{"t":700,"BL":-15,"Sal":7,"Caps":18,"C1h":13},{"t":712.5,"BL":9,"Sal":-1,"Caps":11,"C1h":36},{"t":725,"BL":16,"Sal":11,"Caps":6,"C1h":19},{"t":737.5,"BL":2,"Sal":-3,"Caps":16,"C1h":2},
{"t":750,"BL":-4,"Sal":6,"Caps":13,"C1h":6},{"t":762.5,"BL":9,"Sal":-6,"Caps":23,"C1h":-4},{"t":775,"BL":13,"Sal":-1,"Caps":28,"C1h":2},{"t":787.5,"BL":-8,"Sal":1,"Caps":26,"C1h":-8},{"t":800,"BL":6,"Sal":-8,"Caps":-1,"C1h":-4},{"t":812.5,"BL":-1,"Sal":9,"Caps":-11,"C1h":-13},{"t":825,"BL":13,"Sal":28,"Caps":-13,"C1h":-8},{"t":837.5,"BL":9,"Sal":31,"Caps":-1,"C1h":-18},{"t":850,"BL":19,"Sal":23,"Caps":9,"C1h":-23},{"t":862.5,"BL":23,"Sal":9,"Caps":-21,"C1h":-18},
{"t":875,"BL":16,"Sal":-3,"Caps":-9,"C1h":19},{"t":887.5,"BL":2,"Sal":-8,"Caps":-1,"C1h":16},{"t":900,"BL":1,"Sal":13,"Caps":9,"C1h":13},{"t":912.5,"BL":9,"Sal":13,"Caps":33,"C1h":21},{"t":925,"BL":16,"Sal":23,"Caps":40,"C1h":23},{"t":937.5,"BL":23,"Sal":38,"Caps":35,"C1h":13},{"t":950,"BL":19,"Sal":43,"Caps":9,"C1h":18},{"t":962.5,"BL":6,"Sal":19,"Caps":-1,"C1h":14},{"t":975,"BL":9,"Sal":9,"Caps":-6,"C1h":9},{"t":987.5,"BL":-1,"Sal":-8,"Caps":-15,"C1h":13},
{"t":1000,"BL":16,"Sal":-21,"Caps":-32,"C1h":2}]
},
"columns":4,
"align":"each",
"bounds":"flush",
"spacing":{"row":0,"column":34},
"concat":[
{"data":{"name":"OB"},"width":254,"height":126,"title":{"text":"BL","dx":14},"mark":{"type":"line","color":"#1a1a1a","strokeWidth":1},"encoding":{"x":{"field":"t","type":"quantitative","scale":{"domain":[0,1000]},"axis":null},"y":{"field":"BL","type":"quantitative","scale":{"domain":[-63,63],"nice":false,"zero":false},"axis":{"orient":"left","values":[0],"labelExpr":"'OB'","title":null,"ticks":false,"tickSize":0,"domain":false,"grid":false,"labelFontSize":27,"labelColor":"black","labelPadding":31,"minExtent":127,"maxExtent":127}}}},
{"data":{"name":"OB"},"width":254,"height":126,"title":{"text":"Sal","dx":8},"mark":{"type":"line","color":"#1a1a1a","strokeWidth":1},"encoding":{"x":{"field":"t","type":"quantitative","scale":{"domain":[0,1000]},"axis":null},"y":{"field":"Sal","type":"quantitative","scale":{"domain":[-63,63],"nice":false,"zero":false},"axis":null}}},
{"data":{"name":"OB"},"width":254,"height":126,"title":{"text":"Caps","dx":3},"mark":{"type":"line","color":"#1a1a1a","strokeWidth":1},"encoding":{"x":{"field":"t","type":"quantitative","scale":{"domain":[0,1000]},"axis":null},"y":{"field":"Caps","type":"quantitative","scale":{"domain":[-63,63],"nice":false,"zero":false},"axis":null}}},
{"data":{"name":"OB"},"width":254,"height":126,"title":{"text":"Caps 1h","dx":-12},"mark":{"type":"line","color":"#1a1a1a","strokeWidth":1},"encoding":{"x":{"field":"t","type":"quantitative","scale":{"domain":[0,1000]},"axis":null},"y":{"field":"C1h","type":"quantitative","scale":{"domain":[-63,63],"nice":false,"zero":false},"axis":{"orient":"right","values":[0],"labelExpr":"'0.5\u0332mV'","title":null,"ticks":false,"tickSize":0,"domain":false,"grid":false,"labelFontSize":27,"labelColor":"black","labelAngle":90,"labelAlign":"center","labelBaseline":"alphabetic","labelPadding":28,"minExtent":62,"maxExtent":62}}}},

{"data":{"name":"ACC"},"width":254,"height":131,"mark":{"type":"line","color":"#1a1a1a","strokeWidth":1},"encoding":{"x":{"field":"t","type":"quantitative","scale":{"domain":[0,1000]},"axis":null},"y":{"field":"BL","type":"quantitative","scale":{"domain":[-67,64],"nice":false,"zero":false},"axis":{"orient":"left","values":[0],"labelExpr":"'ACC'","title":null,"ticks":false,"tickSize":0,"domain":false,"grid":false,"labelFontSize":27,"labelColor":"black","labelPadding":31,"minExtent":127,"maxExtent":127}}}},
{"data":{"name":"ACC"},"width":254,"height":131,"mark":{"type":"line","color":"#1a1a1a","strokeWidth":1},"encoding":{"x":{"field":"t","type":"quantitative","scale":{"domain":[0,1000]},"axis":null},"y":{"field":"Sal","type":"quantitative","scale":{"domain":[-67,64],"nice":false,"zero":false},"axis":null}}},
{"data":{"name":"ACC"},"width":254,"height":131,"mark":{"type":"line","color":"#1a1a1a","strokeWidth":1},"encoding":{"x":{"field":"t","type":"quantitative","scale":{"domain":[0,1000]},"axis":null},"y":{"field":"Caps","type":"quantitative","scale":{"domain":[-67,64],"nice":false,"zero":false},"axis":null}}},
{"data":{"name":"ACC"},"width":254,"height":131,"mark":{"type":"line","color":"#1a1a1a","strokeWidth":1},"encoding":{"x":{"field":"t","type":"quantitative","scale":{"domain":[0,1000]},"axis":null},"y":{"field":"C1h","type":"quantitative","scale":{"domain":[-67,64],"nice":false,"zero":false},"axis":{"orient":"right","values":[0],"labelExpr":"'0.1\u0332mV'","title":null,"ticks":false,"tickSize":0,"domain":false,"grid":false,"labelFontSize":27,"labelColor":"black","labelAngle":90,"labelAlign":"center","labelBaseline":"alphabetic","labelPadding":28,"minExtent":62,"maxExtent":62}}}},

{"data":{"name":"Ins"},"width":254,"height":132,"mark":{"type":"line","color":"#1a1a1a","strokeWidth":1},"encoding":{"x":{"field":"t","type":"quantitative","scale":{"domain":[0,1000]},"axis":null},"y":{"field":"BL","type":"quantitative","scale":{"domain":[-64,68],"nice":false,"zero":false},"axis":{"orient":"left","values":[0],"labelExpr":"'Ins'","title":null,"ticks":false,"tickSize":0,"domain":false,"grid":false,"labelFontSize":27,"labelColor":"black","labelPadding":31,"minExtent":127,"maxExtent":127}}}},
{"data":{"name":"Ins"},"width":254,"height":132,"mark":{"type":"line","color":"#1a1a1a","strokeWidth":1},"encoding":{"x":{"field":"t","type":"quantitative","scale":{"domain":[0,1000]},"axis":null},"y":{"field":"Sal","type":"quantitative","scale":{"domain":[-64,68],"nice":false,"zero":false},"axis":null}}},
{"data":{"name":"Ins"},"width":254,"height":132,"mark":{"type":"line","color":"#1a1a1a","strokeWidth":1},"encoding":{"x":{"field":"t","type":"quantitative","scale":{"domain":[0,1000]},"axis":null},"y":{"field":"Caps","type":"quantitative","scale":{"domain":[-64,68],"nice":false,"zero":false},"axis":null}}},
{"data":{"name":"Ins"},"width":254,"height":132,"mark":{"type":"line","color":"#1a1a1a","strokeWidth":1},"encoding":{"x":{"field":"t","type":"quantitative","scale":{"domain":[0,1000]},"axis":null},"y":{"field":"C1h","type":"quantitative","scale":{"domain":[-64,68],"nice":false,"zero":false},"axis":{"orient":"right","values":[0],"labelExpr":"'0.1\u0332mV'","title":null,"ticks":false,"tickSize":0,"domain":false,"grid":false,"labelFontSize":27,"labelColor":"black","labelAngle":90,"labelAlign":"center","labelBaseline":"alphabetic","labelPadding":28,"minExtent":62,"maxExtent":62}}}},

{"data":{"name":"S1"},"width":254,"height":112,"mark":{"type":"line","color":"#1a1a1a","strokeWidth":1},"encoding":{"x":{"field":"t","type":"quantitative","scale":{"domain":[0,1000]},"axis":null},"y":{"field":"BL","type":"quantitative","scale":{"domain":[-48,64],"nice":false,"zero":false},"axis":{"orient":"left","values":[0],"labelExpr":"'S1'","title":null,"ticks":false,"tickSize":0,"domain":false,"grid":false,"labelFontSize":27,"labelColor":"black","labelPadding":31,"minExtent":127,"maxExtent":127}}}},
{"data":{"name":"S1"},"width":254,"height":112,"mark":{"type":"line","color":"#1a1a1a","strokeWidth":1},"encoding":{"x":{"field":"t","type":"quantitative","scale":{"domain":[0,1000]},"axis":null},"y":{"field":"Sal","type":"quantitative","scale":{"domain":[-48,64],"nice":false,"zero":false},"axis":null}}},
{"data":{"name":"S1"},"width":254,"height":112,"mark":{"type":"line","color":"#1a1a1a","strokeWidth":1},"encoding":{"x":{"field":"t","type":"quantitative","scale":{"domain":[0,1000]},"axis":null},"y":{"field":"Caps","type":"quantitative","scale":{"domain":[-48,64],"nice":false,"zero":false},"axis":null}}},
{"data":{"name":"S1"},"width":254,"height":112,"mark":{"type":"line","color":"#1a1a1a","strokeWidth":1},"encoding":{"x":{"field":"t","type":"quantitative","scale":{"domain":[0,1000]},"axis":null},"y":{"field":"C1h","type":"quantitative","scale":{"domain":[-48,64],"nice":false,"zero":false},"axis":{"orient":"right","values":[0],"labelExpr":"'0.1\u0332mV'","title":null,"ticks":false,"tickSize":0,"domain":false,"grid":false,"labelFontSize":27,"labelColor":"black","labelAngle":90,"labelAlign":"center","labelBaseline":"alphabetic","labelPadding":28,"minExtent":62,"maxExtent":62}}}},

{"data":{"name":"VPL"},"width":254,"height":96,"mark":{"type":"line","color":"#1a1a1a","strokeWidth":1},"encoding":{"x":{"field":"t","type":"quantitative","scale":{"domain":[0,1000]},"axis":null},"y":{"field":"BL","type":"quantitative","scale":{"domain":[-48,48],"nice":false,"zero":false},"axis":{"orient":"left","values":[0],"labelExpr":"'VPL'","title":null,"ticks":false,"tickSize":0,"domain":false,"grid":false,"labelFontSize":27,"labelColor":"black","labelPadding":31,"minExtent":127,"maxExtent":127}}}},
{"data":{"name":"VPL"},"width":254,"height":96,"mark":{"type":"line","color":"#1a1a1a","strokeWidth":1},"encoding":{"x":{"field":"t","type":"quantitative","scale":{"domain":[0,1000]},"axis":null},"y":{"field":"Sal","type":"quantitative","scale":{"domain":[-48,48],"nice":false,"zero":false},"axis":null}}},
{"data":{"name":"VPL"},"width":254,"height":96,"mark":{"type":"line","color":"#1a1a1a","strokeWidth":1},"encoding":{"x":{"field":"t","type":"quantitative","scale":{"domain":[0,1000]},"axis":null},"y":{"field":"Caps","type":"quantitative","scale":{"domain":[-48,48],"nice":false,"zero":false},"axis":null}}},
{"data":{"name":"VPL"},"width":254,"height":96,"mark":{"type":"line","color":"#1a1a1a","strokeWidth":1},"encoding":{"x":{"field":"t","type":"quantitative","scale":{"domain":[0,1000]},"axis":null},"y":{"field":"C1h","type":"quantitative","scale":{"domain":[-48,48],"nice":false,"zero":false},"axis":{"orient":"right","values":[0],"labelExpr":"'0.1\u0332mV'","title":null,"ticks":false,"tickSize":0,"domain":false,"grid":false,"labelFontSize":27,"labelColor":"black","labelAngle":90,"labelAlign":"center","labelBaseline":"alphabetic","labelPadding":28,"minExtent":62,"maxExtent":62}}}},

{"data":{"name":"AMYG"},"width":254,"height":96,"mark":{"type":"line","color":"#1a1a1a","strokeWidth":1},"encoding":{"x":{"field":"t","type":"quantitative","scale":{"domain":[0,1000]},"axis":null},"y":{"field":"BL","type":"quantitative","scale":{"domain":[-47,49],"nice":false,"zero":false},"axis":{"orient":"left","values":[0],"labelExpr":"'AMYG'","title":null,"ticks":false,"tickSize":0,"domain":false,"grid":false,"labelFontSize":27,"labelColor":"black","labelPadding":31,"minExtent":127,"maxExtent":127}}}},
{"data":{"name":"AMYG"},"width":254,"height":96,"mark":{"type":"line","color":"#1a1a1a","strokeWidth":1},"encoding":{"x":{"field":"t","type":"quantitative","scale":{"domain":[0,1000]},"axis":null},"y":{"field":"Sal","type":"quantitative","scale":{"domain":[-47,49],"nice":false,"zero":false},"axis":null}}},
{"data":{"name":"AMYG"},"width":254,"height":96,"mark":{"type":"line","color":"#1a1a1a","strokeWidth":1},"encoding":{"x":{"field":"t","type":"quantitative","scale":{"domain":[0,1000]},"axis":null},"y":{"field":"Caps","type":"quantitative","scale":{"domain":[-47,49],"nice":false,"zero":false},"axis":null}}},
{"data":{"name":"AMYG"},"width":254,"height":96,"mark":{"type":"line","color":"#1a1a1a","strokeWidth":1},"encoding":{"x":{"field":"t","type":"quantitative","scale":{"domain":[0,1000]},"axis":null},"y":{"field":"C1h","type":"quantitative","scale":{"domain":[-47,49],"nice":false,"zero":false},"axis":{"orient":"right","values":[0],"labelExpr":"'0.1\u0332mV'","title":null,"ticks":false,"tickSize":0,"domain":false,"grid":false,"labelFontSize":27,"labelColor":"black","labelAngle":90,"labelAlign":"center","labelBaseline":"alphabetic","labelPadding":28,"minExtent":62,"maxExtent":62}}}},

{"data":{"name":"PAC"},"width":254,"height":96,"mark":{"type":"line","color":"#1a1a1a","strokeWidth":1},"encoding":{"x":{"field":"t","type":"quantitative","scale":{"domain":[0,1000]},"axis":null},"y":{"field":"BL","type":"quantitative","scale":{"domain":[-48,48],"nice":false,"zero":false},"axis":{"orient":"left","values":[0],"labelExpr":"'PAC'","title":null,"ticks":false,"tickSize":0,"domain":false,"grid":false,"labelFontSize":27,"labelColor":"black","labelPadding":31,"minExtent":127,"maxExtent":127}}}},
{"data":{"name":"PAC"},"width":254,"height":96,"mark":{"type":"line","color":"#1a1a1a","strokeWidth":1},"encoding":{"x":{"field":"t","type":"quantitative","scale":{"domain":[0,1000]},"axis":null},"y":{"field":"Sal","type":"quantitative","scale":{"domain":[-48,48],"nice":false,"zero":false},"axis":null}}},
{"data":{"name":"PAC"},"width":254,"height":96,"mark":{"type":"line","color":"#1a1a1a","strokeWidth":1},"encoding":{"x":{"field":"t","type":"quantitative","scale":{"domain":[0,1000]},"axis":null},"y":{"field":"Caps","type":"quantitative","scale":{"domain":[-48,48],"nice":false,"zero":false},"axis":null}}},
{"width":254,"height":96,"layer":[
{"data":{"name":"PAC"},"mark":{"type":"line","color":"#1a1a1a","strokeWidth":1},"encoding":{"x":{"field":"t","type":"quantitative","scale":{"domain":[0,1000]},"axis":null},"y":{"field":"C1h","type":"quantitative","scale":{"domain":[-48,48],"nice":false,"zero":false},"axis":{"orient":"right","values":[0],"labelExpr":"'0.1\u0332mV'","title":null,"ticks":false,"tickSize":0,"domain":false,"grid":false,"labelFontSize":27,"labelColor":"black","labelAngle":90,"labelAlign":"center","labelBaseline":"alphabetic","labelPadding":28,"minExtent":62,"maxExtent":62}}}},
{"data":{"values":[{"t0":750,"t1":1000,"label":"250ms"}]},"mark":{"type":"rule","color":"black","strokeWidth":2.5},"encoding":{"x":{"field":"t0","type":"quantitative","axis":null},"x2":{"field":"t1"},"y":{"datum":-50,"type":"quantitative","axis":{"orient":"right","values":[0],"labelExpr":"'0.1\u0332mV'","title":null,"ticks":false,"tickSize":0,"domain":false,"grid":false,"labelFontSize":27,"labelColor":"black","labelAngle":90,"labelAlign":"center","labelBaseline":"alphabetic","labelPadding":28,"minExtent":62,"maxExtent":62}}}},
{"data":{"values":[{"t0":750,"t1":1000,"label":"250ms"}]},"mark":{"type":"text","color":"black","fontSize":25,"font":"Liberation Sans","align":"right","baseline":"top","dx":6,"dy":4},"encoding":{"x":{"field":"t1","type":"quantitative","axis":null},"y":{"datum":-50,"type":"quantitative","axis":{"orient":"right","values":[0],"labelExpr":"'0.1\u0332mV'","title":null,"ticks":false,"tickSize":0,"domain":false,"grid":false,"labelFontSize":27,"labelColor":"black","labelAngle":90,"labelAlign":"center","labelBaseline":"alphabetic","labelPadding":28,"minExtent":62,"maxExtent":62}},"text":{"field":"label"}}}
]}
]
}
